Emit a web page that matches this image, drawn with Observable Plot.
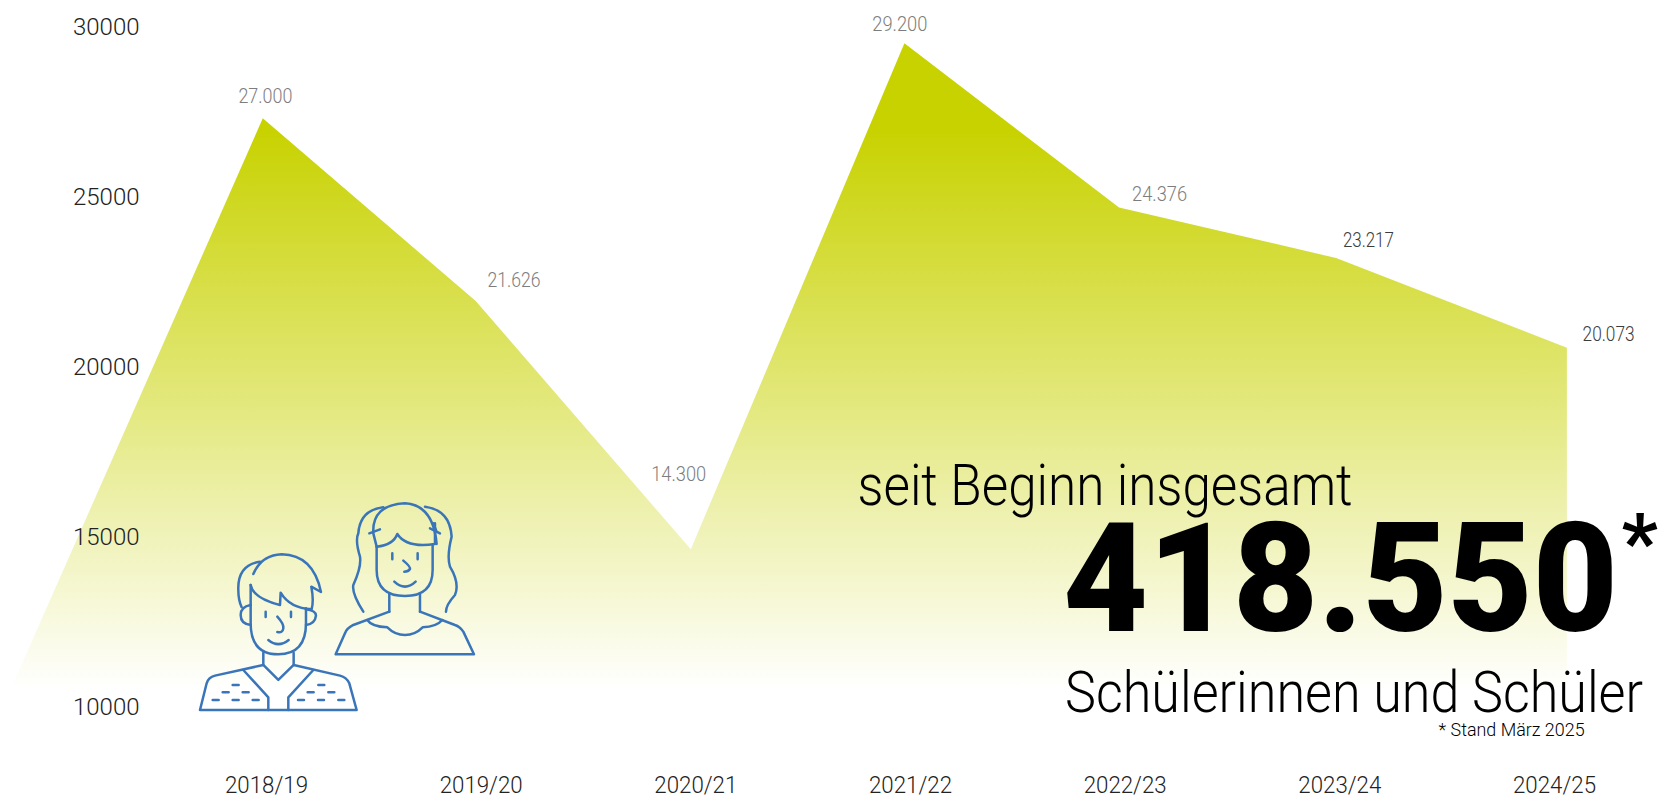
<!DOCTYPE html>
<html lang="de">
<head>
<meta charset="utf-8">
<script src="https://cdn.jsdelivr.net/npm/d3@7"></script>
<script src="https://cdn.jsdelivr.net/npm/@observablehq/plot@0.6"></script>
<style>
html,body{margin:0;padding:0;background:#fff}
svg{display:block}
</style>
</head>
<body>
<div id="chart"></div>
<script>
// School years on the axis
const years = ["2018/19","2019/20","2020/21","2021/22","2022/23","2023/24","2024/25"];
const yTicks = [10000,15000,20000,25000,30000];

// Area outline as drawn in the picture (position in school-year units, height on the y axis)
const areaYearPos = [-1.24,-0.015,0.977,1.979,2.974,3.974,4.985,6.06];
const areaHeights = [9800,27315,21941,14638,29521,24691,23206,20568];
const areaBase = 9500;

// Printed value labels
const valueLabels = ["27.000","21.626","14.300","29.200","24.376","23.217","20.073"];
const labelYearPos = [-0.005,1.153,1.92,2.95,4.16,5.133,6.252];
const labelHeights = [27970,22559,16853,30090,25088,23735,20971];
const labelColors = ["#7d7d7d","#7d7d7d","#7d7d7d","#7d7d7d","#7d7d7d","#3c3c3c","#3c3c3c"];

// Headline text
const notes = ["seit Beginn insgesamt","418.550","*","Schülerinnen und Schüler","* Stand März 2025"];
const noteYearPos = [2.753,3.71,6.312,3.72,5.46];
const noteHeights = [15950,12250,14030,9880,9175];
const noteSizes = [58,152,80,58,18];
const noteWeights = [300,900,700,300,300];

// Printed width of each text
const printedWidths = new Map([
  ["seit Beginn insgesamt",495],["418.550",555],["Schülerinnen und Schüler",578],["* Stand März 2025",146],
  ["27.000",54],["21.626",53],["14.300",55],["29.200",55],["24.376",55],["23.217",51],["20.073",52],
  ...years.map(y=>[y,83])
]);

const areaRows = areaYearPos.map((x,i)=>({x,y:areaHeights[i]}));
const labelRows = valueLabels.map((t,i)=>({t,x:labelYearPos[i],y:labelHeights[i],c:labelColors[i]}));
const noteRows = notes.map((t,i)=>({t,x:noteYearPos[i],y:noteHeights[i],s:noteSizes[i],w:noteWeights[i]}));

const gradientMark = (index,{y}) => {
  const g = d3.create("svg:g");
  const lg = g.append("defs").append("linearGradient")
    .attr("id","fade").attr("gradientUnits","userSpaceOnUse")
    .attr("x1",0).attr("x2",0).attr("y1",y(27000)).attr("y2",y(10500));
  lg.append("stop").attr("offset",0).attr("stop-color","#c8d200");
  lg.append("stop").attr("offset",1).attr("stop-color","#ffffff");
  return g.node();
};

const iconPaths = [
  // boy
  "M302,345V460Q302,553 385,553Q468,553 468,460V415",
  "M302,345Q310,385 390,405L392,368Q420,415 485,418Q492,390 484,350L513,366Q490,255 395,253Q335,255 310,312",
  "M330,275Q262,285 265,360Q265,390 275,412",
  "M302,405Q272,410 272,435Q272,462 302,465",
  "M468,418Q498,422 498,437Q495,462 468,465",
  "M347,425V441M423,425V441",
  "M382,440Q402,462 400,475Q398,490 382,486",
  "M355,510Q385,535 416,510",
  "M340,548V585M431,548V585M340,585L385,630L431,585",
  "M150,720H620L598,640Q590,622 570,617L431,585M340,585L195,617Q175,622 170,640L150,720",
  "M280,600L355,682V720M490,600L415,682V720",
  "M248,645H266M218,667H236M278,667H296M188,690H206M248,690H266M308,690H326",
  "M505,645H523M473,667H491M535,667H553M444,690H462M504,690H522M565,690H583",
  // girl
  "M680,230V300Q680,378 765,378Q848,378 848,300V225",
  "M680,230Q730,225 742,192Q770,235 855,222V160",
  "M680,230L670,190Q665,105 765,100Q850,105 860,222",
  "M700,112Q630,120 625,190Q615,210 630,260Q635,290 610,345Q605,370 640,425",
  "M825,110Q900,120 905,200Q890,260 900,290Q930,340 915,375Q888,405 888,425",
  "M658,190L690,178M840,175L870,190M850,160L860,185",
  "M727,250V268M803,250V268",
  "M760,272Q782,290 780,297Q775,305 763,305",
  "M733,335Q765,365 797,335",
  "M718,372V425M810,372V425",
  "M718,425L610,465Q590,475 585,490L557,553H972L940,485Q930,470 915,465L810,425",
  "M652,450Q665,470 712,472Q735,495 765,495Q795,495 818,472Q860,470 877,450"
];
const iconMark = () => {
  const g = d3.create("svg:g")
    .attr("transform","translate(150,470) scale(0.3333)")
    .attr("fill","none").attr("stroke","#3a75b9").attr("stroke-width",7.5)
    .attr("stroke-linejoin","round").attr("stroke-linecap","round");
  iconPaths.forEach(d=>g.append("path").attr("d",d));
  return g.node();
};

const font = "Roboto, 'Noto Sans', sans-serif";
const chart = Plot.plot({
  width:1660, height:798,
  marginTop:27, marginBottom:91, marginLeft:266, marginRight:106,
  style:{fontFamily:font, background:"transparent", overflow:"visible"},
  x:{type:"linear",domain:[0,6],range:[266,1554]},
  y:{type:"linear",domain:[10000,30000],range:[707,27]},
  marks:[
    gradientMark,
    Plot.areaY(areaRows,{x:"x",y1:()=>areaBase,y2:"y",fill:"url(#fade)",curve:"linear"}),
    iconMark,
    Plot.axisY({ticks:yTicks,tickSize:0,tickPadding:127,tickFormat:d=>String(d),label:null,fontSize:24,fontWeight:300,fill:"#222"}),
    Plot.axisX({ticks:[0,1,2,3,4,5,6],tickSize:0,tickPadding:68,tickFormat:i=>years[i],label:null,fontSize:24,fontWeight:300,fill:"#222"}),
    Plot.text(labelRows,{x:"x",y:"y",text:"t",fill:"c",fontSize:20,fontWeight:300}),
    ...noteRows.map(r=>Plot.text([r],{x:"x",y:"y",text:"t",fill:"#000",fontSize:r.s,fontWeight:r.w,textAnchor:"start",lineAnchor:"bottom"}))
  ]
});
d3.select(chart).selectAll("text").each(function(){
  const w = printedWidths.get(this.textContent);
  if (w) { this.setAttribute("textLength",w); this.setAttribute("lengthAdjust","spacingAndGlyphs"); }
});
document.getElementById("chart").appendChild(chart);
</script>
</body>
</html>
